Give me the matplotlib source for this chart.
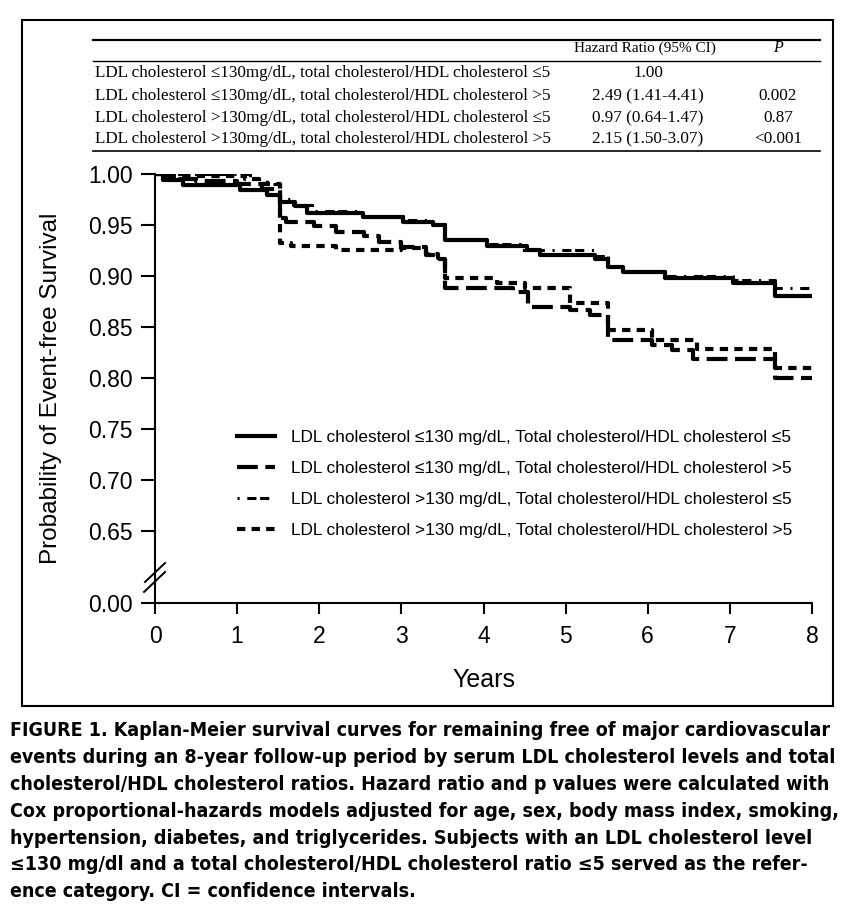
import matplotlib
matplotlib.use("Agg")
import matplotlib.pyplot as plt
from matplotlib import font_manager
from matplotlib import patheffects
from matplotlib.lines import Line2D
from matplotlib.patches import Rectangle

# ---------------- data ----------------
labels = [
    "LDL cholesterol \u2264130 mg/dL, Total cholesterol/HDL cholesterol \u22645",
    "LDL cholesterol \u2264130 mg/dL, Total cholesterol/HDL cholesterol >5",
    "LDL cholesterol >130 mg/dL, Total cholesterol/HDL cholesterol \u22645",
    "LDL cholesterol >130 mg/dL, Total cholesterol/HDL cholesterol >5",
]
t1 = [0, 0.10, 0.34, 1.03, 1.36, 1.52, 1.70, 1.85, 2.53, 3.02, 3.38, 3.53, 4.04, 4.53, 4.69, 5.36, 5.52, 5.70, 6.21, 7.04, 7.55, 8.0]
s1 = [1.0, 0.994, 0.989, 0.984, 0.979, 0.973, 0.969, 0.962, 0.958, 0.953, 0.950, 0.935, 0.929, 0.925, 0.921, 0.917, 0.909, 0.904, 0.898, 0.893, 0.880, 0.880]
t2 = [0, 0.15, 0.50, 1.00, 1.30, 1.52, 1.60, 1.93, 2.20, 2.55, 2.73, 3.00, 3.30, 3.45, 3.53, 4.36, 4.54, 5.05, 5.30, 5.52, 6.05, 6.30, 6.55, 7.55, 8.0]
s2 = [1.0, 0.995, 0.993, 0.990, 0.985, 0.957, 0.953, 0.949, 0.943, 0.939, 0.933, 0.928, 0.921, 0.917, 0.888, 0.884, 0.870, 0.867, 0.862, 0.837, 0.832, 0.827, 0.819, 0.800, 0.800]
t3 = [0, 1.16, 1.36, 1.52, 1.68, 1.93, 2.52, 3.02, 3.39, 3.53, 4.04, 4.45, 5.36, 5.52, 5.70, 6.21, 7.04, 7.55, 8.0]
s3 = [1.0, 0.995, 0.990, 0.975, 0.970, 0.964, 0.959, 0.955, 0.951, 0.936, 0.931, 0.925, 0.920, 0.910, 0.905, 0.900, 0.896, 0.888, 0.888]
t4 = [0, 0.20, 1.10, 1.30, 1.52, 1.65, 2.20, 3.00, 3.30, 3.45, 3.53, 4.17, 4.50, 5.05, 5.52, 6.05, 6.60, 7.55, 8.0]
s4 = [1.0, 0.998, 0.995, 0.990, 0.932, 0.929, 0.925, 0.927, 0.922, 0.918, 0.898, 0.893, 0.888, 0.874, 0.847, 0.837, 0.828, 0.810, 0.810]

ytick_vals = [0.65, 0.70, 0.75, 0.80, 0.85, 0.90, 0.95, 1.00]
ytick_labels = ["0.65", "0.70", "0.75", "0.80", "0.85", "0.90", "0.95", "1.00"]
y_zero_pos = 0.5794  # position where broken axis shows 0.00
xticks = [0, 1, 2, 3, 4, 5, 6, 7, 8]

tbl_rows = [
    "LDL cholesterol \u2264130mg/dL, total cholesterol/HDL cholesterol \u22645",
    "LDL cholesterol \u2264130mg/dL, total cholesterol/HDL cholesterol >5",
    "LDL cholesterol >130mg/dL, total cholesterol/HDL cholesterol \u22645",
    "LDL cholesterol >130mg/dL, total cholesterol/HDL cholesterol >5",
]
tbl_hr = ["1.00", "2.49 (1.41-4.41)", "0.97 (0.64-1.47)", "2.15 (1.50-3.07)"]
tbl_p = ["", "0.002", "0.87", "<0.001"]

caption_lines = [
    "FIGURE 1. Kaplan-Meier survival curves for remaining free of major cardiovascular",
    "events during an 8-year follow-up period by serum LDL cholesterol levels and total",
    "cholesterol/HDL cholesterol ratios. Hazard ratio and p values were calculated with",
    "Cox proportional-hazards models adjusted for age, sex, body mass index, smoking,",
    "hypertension, diabetes, and triglycerides. Subjects with an LDL cholesterol level",
    "\u2264130 mg/dl and a total cholesterol/HDL cholesterol ratio \u22645 served as the refer-",
    "ence category. CI = confidence intervals.",
]

# ---------------- fonts ----------------
fl = font_manager.fontManager.ttflist
names = {f.name for f in fl}
sans = "Liberation Sans" if "Liberation Sans" in names else "DejaVu Sans"
serif = "Liberation Serif" if "Liberation Serif" in names else "DejaVu Serif"


def wnum(w):
    if isinstance(w, int):
        return w
    return font_manager.weight_dict.get(str(w), 400)


narrow = [f for f in fl if ("Narrow" in f.name or "Condensed" in f.name)
          or str(f.stretch) in ("condensed", "semi-condensed", "extra-condensed")]
narrow_bold = [f for f in narrow if wnum(f.weight) >= 600 and f.style == "normal"]
fake_bold = False
if narrow_bold:
    cap_fp = font_manager.FontProperties(fname=narrow_bold[0].fname)
elif narrow:
    cap_fp = font_manager.FontProperties(fname=[f for f in narrow if f.style == "normal"][0].fname)
    fake_bold = True
else:
    cap_fp = font_manager.FontProperties(family=sans, weight="bold")

W, H = 852, 924
fig = plt.figure(figsize=(W / 100, H / 100), dpi=100)


def fx(px):
    return px / W


def fy(py):
    return 1 - py / H


# outer frame
fig.patches.append(Rectangle((fx(22), fy(706)), fx(833) - fx(22), fy(20) - fy(706),
                             transform=fig.transFigure, fill=False, lw=1.5, ec="black"))

# ---------------- table ----------------
tfs = 12.3
fig.add_artist(Line2D([fx(93), fx(820)], [fy(40), fy(40)], color="black", lw=1.6, transform=fig.transFigure))
fig.add_artist(Line2D([fx(93), fx(820)], [fy(61), fy(61)], color="black", lw=1.0, transform=fig.transFigure))
fig.add_artist(Line2D([fx(93), fx(820)], [fy(151), fy(151)], color="black", lw=1.2, transform=fig.transFigure))
fig.text(fx(645), fy(48), "Hazard Ratio (95% CI)", family=serif, fontsize=11.0, ha="center", va="center")
fig.text(fx(778), fy(48), "P", family=serif, fontsize=11.5, style="italic", ha="center", va="center")
row_y = [73, 96, 118, 139]
for i in range(4):
    fig.text(fx(95), fy(row_y[i]), tbl_rows[i], family=serif, fontsize=tfs, ha="left", va="center")
    fig.text(fx(648), fy(row_y[i]), tbl_hr[i], family=serif, fontsize=tfs, ha="center", va="center")
    fig.text(fx(778), fy(row_y[i]), tbl_p[i], family=serif, fontsize=tfs, ha="center", va="center")

# ---------------- axes ----------------
ax = fig.add_axes([fx(155), fy(603), fx(812) - fx(155), fy(174) - fy(603)])
ax.set_xlim(0, 8)
ax.set_ylim(y_zero_pos, 1.0)
for sp in ["top", "right"]:
    ax.spines[sp].set_visible(False)
ax.spines["left"].set_linewidth(1.5)
ax.spines["bottom"].set_linewidth(1.5)

ax.step(t1, s1, where="post", color="black", lw=3.0, label=labels[0])
ax.step(t2, s2, where="post", color="black", lw=3.0, linestyle=(0, (5, 1.8)), label=labels[1])
ax.step(t3, s3, where="post", color="black", lw=2.2, linestyle=(0, (0.7, 2.5, 3, 1.2, 3, 2.5)), label=labels[2])
ax.step(t4, s4, where="post", color="black", lw=3.0, linestyle=(0, (2.0, 1.5)), label=labels[3])

ax.set_yticks([y_zero_pos] + ytick_vals)
ax.set_yticklabels(["0.00"] + ytick_labels, family=sans, fontsize=16.5)
ax.set_xticks(xticks)
ax.set_xticklabels([str(v) for v in xticks], family=sans, fontsize=16.5)
ax.tick_params(axis="y", direction="out", length=10, width=1.5, pad=6)
ax.tick_params(axis="x", direction="out", length=8, width=1.5, pad=8)

ax.set_ylabel("Probability of Event-free Survival", family=sans, fontsize=17.5, labelpad=19)
ax.set_xlabel("Years", family=sans, fontsize=18, labelpad=14)

# break marks on y-axis
ax.plot([-0.122, 0.122], [0.600, 0.6186], color="black", lw=1.4, clip_on=False)
ax.plot([-0.134, 0.122], [0.5902, 0.6098], color="black", lw=1.4, clip_on=False)

leg = ax.legend(loc="upper left", bbox_to_anchor=(fx(237), fy(430)), bbox_transform=fig.transFigure,
                frameon=False, prop={"family": sans, "size": 12.4}, handlelength=2.2,
                handletextpad=0.95, labelspacing=0.93, borderpad=0, borderaxespad=0)

# caption: one text per line, fitted to the reference width
cap_texts = []
pitch = 26.8
for i, line in enumerate(caption_lines):
    kw = {}
    if fake_bold:
        kw["path_effects"] = [patheffects.withStroke(linewidth=0.9, foreground="black")]
    cap_texts.append(fig.text(fx(10), fy(731 + i * pitch), line, fontproperties=cap_fp.copy(),
                              ha="left", va="center", **kw))
    cap_texts[-1].set_fontsize(16)
fig.canvas.draw()
r = fig.canvas.get_renderer()
w0 = cap_texts[0].get_window_extent(r).width
scale = 818.0 / w0
for t in cap_texts:
    t.set_fontsize(16 * scale)

fig.savefig("out.png", dpi=100)
